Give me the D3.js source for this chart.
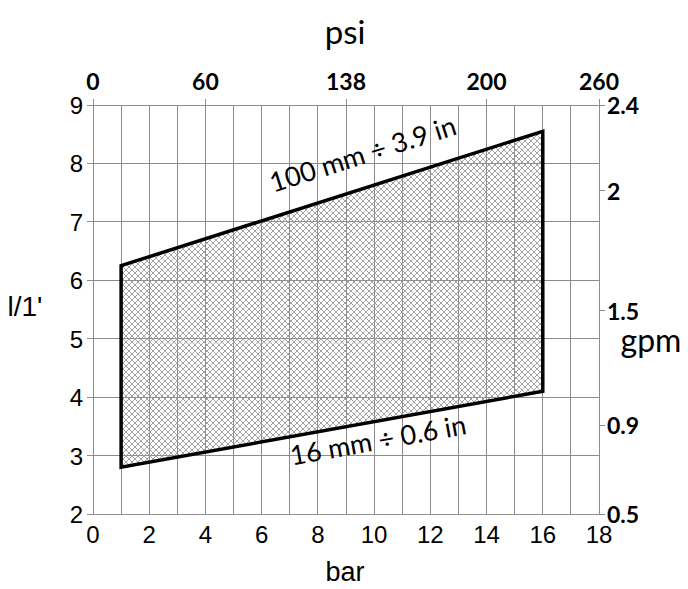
<!DOCTYPE html>
<html><head><meta charset="utf-8">
<script src="https://cdn.jsdelivr.net/npm/d3@7"></script>
<style>body{margin:0;background:#fff}svg{display:block}</style>
</head><body>
<script>
// Data
const polygonBar = [1, 16, 16, 1];
const polygonFlow = [6.25, 8.55, 4.1, 2.8];
const barTicks = [0,2,4,6,8,10,12,14,16,18];
const flowTicks = [2,3,4,5,6,7,8,9];
const psiTickPos = [0,4,9,14,18];
const psiLabels = ["0","60","138","200","260"];
const gpmTickPos = [9,7.53,5.48,3.52,2];
const gpmLabels = ["2.4","2","1.5","0.9","0.5"];
const curveLabels = ["100 mm ÷ 3.9 in", "16 mm ÷ 0.6 in"];

const W=688,H=589;
const svg=d3.select("body").append("svg").attr("width",W).attr("height",H);
const x=d3.scaleLinear().domain([0,18]).range([93,599]);
const y=d3.scaleLinear().domain([2,9]).range([514,105]);

const defs=svg.append("defs");
const pat=defs.append("pattern").attr("id","hatch").attr("patternUnits","userSpaceOnUse")
  .attr("width",6).attr("height",6);
pat.append("path").attr("d","M0,0L6,6M6,0L0,6M-1,5L1,7M5,-1L7,1M-1,1L1,-1M5,7L7,5")
  .attr("stroke","#9a9a9a").attr("stroke-width",0.9).attr("fill","none");

const grid=svg.append("g").attr("stroke","#8c8c8c").attr("stroke-width",1).attr("shape-rendering","crispEdges");
d3.range(0,19).forEach(v=>{
  grid.append("line").attr("x1",x(v)).attr("x2",x(v)).attr("y1",y(9)).attr("y2",y(2));
});
flowTicks.forEach(v=>{
  grid.append("line").attr("x1",x(0)-6).attr("x2",x(18)).attr("y1",y(v)).attr("y2",y(v));
});
psiTickPos.forEach(v=>{
  grid.append("line").attr("x1",x(v)).attr("x2",x(v)).attr("y1",y(9)-6).attr("y2",y(9));
});
gpmTickPos.forEach(v=>{
  grid.append("line").attr("x1",x(18)).attr("x2",x(18)+6).attr("y1",y(v)).attr("y2",y(v));
});

// polygon
const pts=polygonBar.map((b,i)=>[x(b),y(polygonFlow[i])]);
svg.append("path").attr("d","M"+pts.map(p=>p.join(",")).join("L")+"Z")
  .attr("fill","url(#hatch)").attr("stroke","#000").attr("stroke-width",3.5).attr("stroke-linejoin","miter");

const arial="'Liberation Sans', Arial, sans-serif";
const cal="Lato, 'Open Sans', sans-serif";
svg.append("g").selectAll("text").data(barTicks).join("text")
  .attr("x",d=>x(d)).attr("y",y(2)+29).attr("text-anchor","middle")
  .attr("font-family",arial).attr("font-size",24).text(d=>d);
svg.append("g").selectAll("text").data(flowTicks).join("text")
  .attr("x",x(0)-10).attr("y",d=>y(d)+9).attr("text-anchor","end")
  .attr("font-family",arial).attr("font-size",24).text(d=>d);
svg.append("g").selectAll("text").data(psiTickPos).join("text")
  .attr("x",d=>x(d)).attr("y",y(9)-15).attr("text-anchor","middle")
  .attr("font-family",cal).attr("font-weight",700).attr("font-size",23).text((d,i)=>psiLabels[i]);
svg.append("g").selectAll("text").data(gpmTickPos).join("text")
  .attr("x",x(18)+8).attr("y",d=>y(d)+9).attr("text-anchor","start")
  .attr("font-family",cal).attr("font-weight",700).attr("font-size",23).text((d,i)=>gpmLabels[i]);

// axis titles
svg.append("text").attr("x",345).attr("y",44).attr("text-anchor","middle")
  .attr("font-family",cal).attr("font-size",33).text("psi");
svg.append("text").attr("x",651).attr("y",352).attr("text-anchor","middle")
  .attr("font-family",cal).attr("font-size",32).text("gpm");
svg.append("text").attr("x",345).attr("y",581).attr("text-anchor","middle")
  .attr("font-family",arial).attr("font-size",27).text("bar");
svg.append("text").attr("x",25).attr("y",316).attr("text-anchor","middle")
  .attr("font-family",arial).attr("font-size",28).text("l/1'");

// curve labels
function ang(a,b){return Math.atan2(b[1]-a[1],b[0]-a[0])*180/Math.PI;}
const a1=ang(pts[0],pts[1]), a2=ang(pts[3],pts[2]);
svg.append("text").attr("transform",`translate(${x(9.7)},${y(8.0)}) rotate(${a1})`)
  .attr("text-anchor","middle").attr("font-family",cal).attr("font-size",27).text(curveLabels[0]);
svg.append("text").attr("transform",`translate(${x(10.2)},${y(3.1)}) rotate(${a2})`)
  .attr("text-anchor","middle").attr("font-family",cal).attr("font-size",27).text(curveLabels[1]);
</script>
</body></html>
